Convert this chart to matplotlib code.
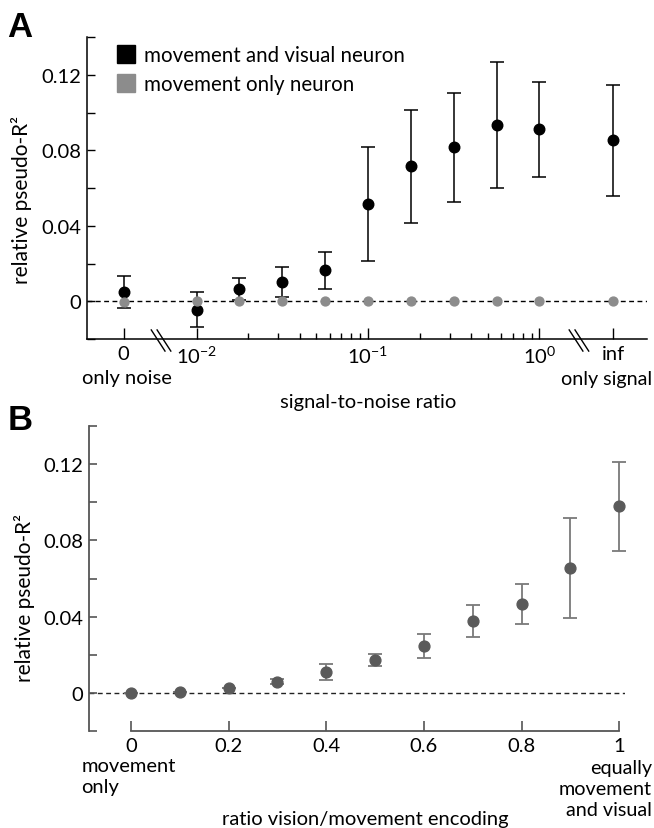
import numpy as np
import matplotlib
matplotlib.use('Agg')
import matplotlib.pyplot as plt
from matplotlib.lines import Line2D
from matplotlib.transforms import blended_transform_factory

plt.rcParams['font.family'] = ['Lato', 'DejaVu Sans']
plt.rcParams['mathtext.fontset'] = 'custom'
plt.rcParams['mathtext.rm'] = 'Lato'
plt.rcParams['mathtext.it'] = 'Lato:italic'
plt.rcParams['mathtext.bf'] = 'Lato:bold'
plt.rcParams['mathtext.default'] = 'regular'

# ---------------- data ----------------
# Panel A: signal-to-noise ratio (0 = only noise, inf = only signal)
snr_values = [0, 10**-2, 10**-1.75, 10**-1.5, 10**-1.25, 10**-1,
              10**-0.75, 10**-0.5, 10**-0.25, 10**0, np.inf]
vis_mean = [0.0050, -0.0044, 0.0067, 0.0100, 0.0163, 0.0515,
            0.0715, 0.0815, 0.0932, 0.0910, 0.0852]
vis_err = [0.0085, 0.0093, 0.0058, 0.0080, 0.0096, 0.0300,
           0.0300, 0.0288, 0.0333, 0.0250, 0.0292]
mov_mean = [-0.0003, 0.0, 0.0, 0.0, 0.0, 0.0, 0.0, 0.0, 0.0, 0.0, 0.0]
snr_tick_values = [0, 1e-2, 1e-1, 1e0, np.inf]
snr_tick_labels = ['0', '10$^{-2}$', '10$^{-1}$', '10$^{0}$', 'inf']
legend_labels = ['movement and visual neuron', 'movement only neuron']

# Panel B: ratio vision/movement encoding
ratio = [0.0, 0.1, 0.2, 0.3, 0.4, 0.5, 0.6, 0.7, 0.8, 0.9, 1.0]
ratio_mean = [-0.0003, 0.0007, 0.0028, 0.0059, 0.0108, 0.0172,
              0.0248, 0.0376, 0.0467, 0.0656, 0.0978]
ratio_err = [0.0, 0.0, 0.0, 0.0015, 0.0041, 0.0031,
             0.0063, 0.0085, 0.0104, 0.0261, 0.0233]
ratio_ticks = [0, 0.2, 0.4, 0.6, 0.8, 1.0]
ratio_tick_labels = ['0', '0.2', '0.4', '0.6', '0.8', '1']

y_major = [0, 0.04, 0.08, 0.12]
y_major_labels = ['0', '0.04', '0.08', '0.12']
y_minor = [-0.02, 0.02, 0.06, 0.10, 0.14]

# ---------------- layout helpers ----------------
W, H = 654, 829
ZERO_POS = -2.426   # axis position used for snr = 0
INF_POS = 0.432     # axis position used for snr = inf
FS = 14.5


def snr_pos(v):
    if v == 0:
        return ZERO_POS
    if np.isinf(v):
        return INF_POS
    return np.log10(v)


def fx(px):
    return px / W


def fy(py):
    return 1 - py / H


fig = plt.figure(figsize=(W / 100, H / 100), dpi=100)

# ================= Panel A =================
axA = fig.add_axes([fx(87), fy(340), fx(647) - fx(87), fy(38) - fy(340)])
xa = [snr_pos(v) for v in snr_values]
axA.set_xlim(-2.639, 0.628)
axA.set_ylim(-0.02, 0.14)
axA.axhline(0, color='black', lw=1.0, ls=(0, (3.5, 2.5)), zorder=1)
axA.errorbar(xa, vis_mean, yerr=vis_err, fmt='o', color='black', ms=7.6,
             elinewidth=1.1, capsize=5, capthick=1.1, zorder=3)
axA.plot(xa, mov_mean, 'o', color='#8c8c8c', ms=6.4, zorder=4)

for s in ['top', 'right']:
    axA.spines[s].set_visible(False)
for s in ['left', 'bottom']:
    axA.spines[s].set_linewidth(1.1)

axA.set_yticks(y_major)
axA.set_yticklabels(y_major_labels)
axA.set_yticks(y_minor, minor=True)
axA.tick_params(axis='y', which='both', direction='in', length=6, width=1.0,
                labelsize=FS, pad=4)

xmaj = [snr_pos(v) for v in snr_tick_values]
axA.set_xticks(xmaj)
axA.set_xticklabels(snr_tick_labels)
xminor = [np.log10(k * 10.0 ** d) for d in (-2, -1) for k in range(2, 10)]
axA.set_xticks(xminor, minor=True)
axA.tick_params(axis='x', which='major', direction='in', length=8, width=1.0,
                labelsize=FS, pad=4)
axA.tick_params(axis='x', which='minor', direction='in', length=4.5, width=1.0)

tA = blended_transform_factory(axA.transData, axA.transAxes)
axA.text(ZERO_POS + 0.02, -0.098, 'only noise', transform=tA, ha='center',
         va='top', fontsize=FS)
fig.text(fx(652), fy(371), 'only signal', ha='right', va='top', fontsize=FS - 0.3)
axA.text(-1.0, -0.178, 'signal-to-noise ratio', transform=tA, ha='center',
         va='top', fontsize=FS)

# axis break marks
for xb in (-2.207, 0.231):
    for dx in (-0.017, 0.017):
        axA.plot([xb + dx - 0.04, xb + dx + 0.04], [0.03, -0.04],
                 transform=tA, color='black', lw=1.0, clip_on=False)

axA.set_ylabel('relative pseudo-R²', fontsize=FS + 0.5)
axA.yaxis.set_label_coords(-0.098, 0.465)

handles = [Line2D([], [], marker='s', ls='none', color='black', ms=13.5),
           Line2D([], [], marker='s', ls='none', color='#8c8c8c', ms=13.5)]
axA.legend(handles, legend_labels, loc='upper left',
           bbox_to_anchor=(fx(116), fy(46)), bbox_transform=fig.transFigure,
           frameon=False, fontsize=FS + 0.3, borderpad=0, borderaxespad=0,
           handlelength=0.95, handletextpad=0.4, labelspacing=0.45)

fig.text(fx(7), fy(37), 'A', fontsize=25, fontweight='bold',
         family='Liberation Sans', va='baseline')

# ================= Panel B =================
cB = '#5a5a5a'
cBerr = '#7a7a7a'
cAx = '#555555'
axB = fig.add_axes([fx(89), fy(732), fx(625) - fx(89), fy(427) - fy(732)])
axB.set_xlim(-0.086, 1.012)
axB.set_ylim(-0.02, 0.14)
axB.axhline(0, color='#222222', lw=1.0, ls=(0, (3.5, 2.5)), zorder=1)
axB.errorbar(ratio, ratio_mean, yerr=ratio_err, fmt='o', color=cB, ms=7.8,
             ecolor=cBerr, elinewidth=1.3, capsize=5, capthick=1.3, zorder=3)

for s in ['top', 'right']:
    axB.spines[s].set_visible(False)
for s in ['left', 'bottom']:
    axB.spines[s].set_linewidth(1.3)
    axB.spines[s].set_color(cAx)
axB.spines['bottom'].set_bounds(0, 1)

axB.set_yticks(y_major)
axB.set_yticklabels(y_major_labels)
axB.set_yticks(y_minor, minor=True)
axB.tick_params(axis='y', which='both', direction='in', length=6, width=1.2,
                color=cAx, labelsize=FS, pad=4)
axB.set_xticks(ratio_ticks)
axB.set_xticklabels(ratio_tick_labels)
axB.tick_params(axis='x', which='major', direction='in', length=7, width=1.2,
                color=cAx, labelsize=FS, pad=4)

tB = blended_transform_factory(axB.transData, axB.transAxes)
axB.text(-0.102, -0.085, 'movement\nonly', transform=tB, ha='left', va='top',
         fontsize=FS, linespacing=1.3)
fig.text(fx(652), fy(760), 'equally\nmovement\nand visual', ha='right',
         va='top', fontsize=FS - 0.3, linespacing=1.3)
axB.text(0.48, -0.258, 'ratio vision/movement encoding', transform=tB,
         ha='center', va='top', fontsize=FS)

axB.set_ylabel('relative pseudo-R²', fontsize=FS + 0.5)
axB.yaxis.set_label_coords(-0.1, 0.44)

fig.text(fx(8), fy(430), 'B', fontsize=25, fontweight='bold',
         family='Liberation Sans', va='baseline')

fig.savefig('out.png', dpi=100)
